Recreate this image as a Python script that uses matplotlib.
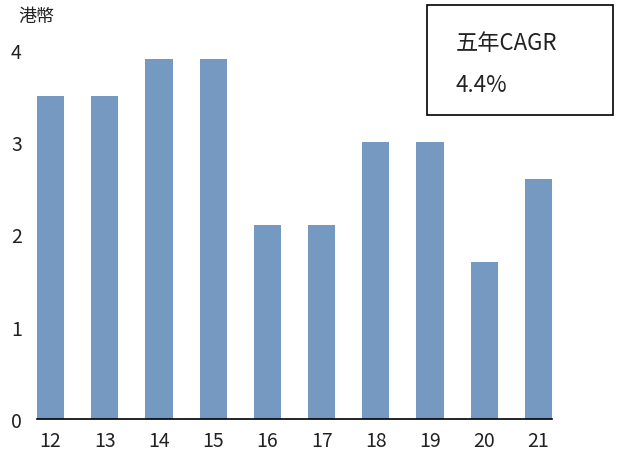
import numpy as np
import matplotlib
matplotlib.use("Agg")
import matplotlib.pyplot as plt
from matplotlib.patches import Rectangle

plt.rcParams['font.family'] = ['Noto Sans CJK SC', 'DejaVu Sans']

# data
years = ['12', '13', '14', '15', '16', '17', '18', '19', '20', '21']
dividend = [3.5, 3.5, 3.9, 3.9, 2.1, 2.1, 3.0, 3.0, 1.7, 2.6]
y_ticks = [0, 1, 2, 3, 4]
unit_label = '港幣'
box_title = '五年CAGR'
box_value = '4.4%'

bar_color = '#7599c0'
text_color = '#222222'

fig = plt.figure(figsize=(6.17, 4.56), dpi=100)
ax = fig.add_axes([37/617, 36/456, 515/617, 369/456])

x = np.arange(len(years))
ax.bar(x, dividend, width=0.5, color=bar_color)
ax.set_xlim(-0.25, len(years) - 0.75)
ax.set_ylim(0, 4)
ax.set_xticks(x)
ax.set_xticklabels(years)
ax.set_yticks(y_ticks)

for s in ['top', 'right', 'left']:
    ax.spines[s].set_visible(False)
ax.spines['bottom'].set_color('black')
ax.spines['bottom'].set_linewidth(1.2)
ax.tick_params(axis='both', length=0, labelsize=14, colors=text_color)
ax.tick_params(axis='x', pad=8)
ax.tick_params(axis='y', pad=11)

fig.text(18/617, 1 - 17/456, unit_label, fontsize=13, color=text_color,
         ha='left', va='center')

# CAGR box
fig.patches.append(Rectangle((427/617, 1 - 116/456), 186/617, 110/456,
                             transform=fig.transFigure, fill=False,
                             edgecolor='black', linewidth=1.2))
fig.text(456/617, 1 - 43/456, box_title, fontsize=16, color=text_color,
         ha='left', va='center')
fig.text(456/617, 1 - 85/456, box_value, fontsize=16, color=text_color,
         ha='left', va='center')

fig.savefig('out.png', dpi=100)
